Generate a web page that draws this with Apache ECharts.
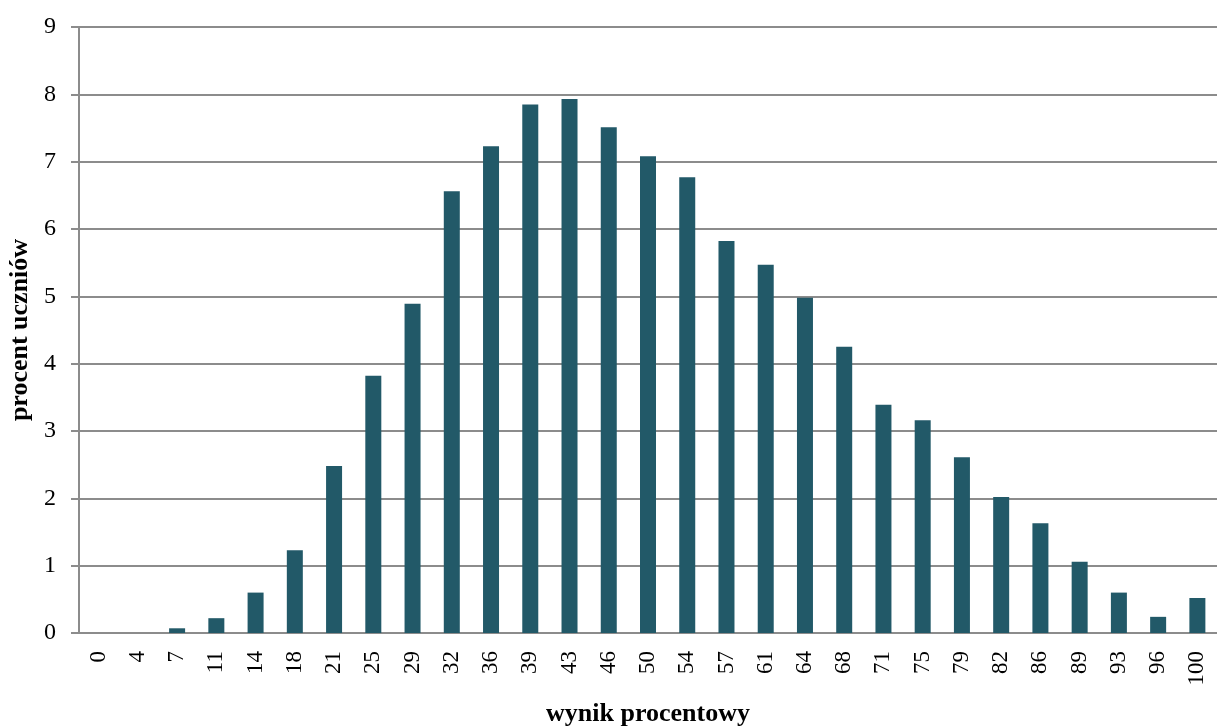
<!DOCTYPE html>
<html>
<head>
<meta charset="utf-8">
<script src="https://cdn.jsdelivr.net/npm/echarts@6/dist/echarts.min.js"></script>
<style>
html,body{margin:0;padding:0;background:#fff;}
#chart{width:1217px;height:726px;}
</style>
</head>
<body>
<div id="chart"></div>
<script>
const categories = ['0','4','7','11','14','18','21','25','29','32','36','39','43','46','50','54','57','61','64','68','71','75','79','82','86','89','93','96','100'];
const values = [0, 0, 0.07, 0.22, 0.60, 1.23, 2.48, 3.82, 4.89, 6.56, 7.23, 7.85, 7.93, 7.51, 7.08, 6.77, 5.82, 5.47, 4.98, 4.25, 3.39, 3.16, 2.61, 2.02, 1.63, 1.06, 0.60, 0.24, 0.52];
const yTicks = [0,1,2,3,4,5,6,7,8,9];
const xTitle = 'wynik procentowy';
const yTitle = 'procent uczniów';

const font = '"Liberation Serif", "Times New Roman", serif';
const chart = echarts.init(document.getElementById('chart'));
chart.setOption({
  animation: false,
  backgroundColor: '#ffffff',
  grid: {left: 79, right: 0, top: 27, bottom: 93, containLabel: false, outerBoundsMode: 'none'},
  xAxis: {
    type: 'category',
    data: categories,
    name: xTitle,
    nameLocation: 'middle',
    nameGap: 68,
    nameTextStyle: {fontFamily: font, fontWeight: 'bold', fontSize: 26, color: '#000'},
    axisLine: {show: true, lineStyle: {color: '#8c8c8c', width: 2}},
    axisTick: {show: false},
    axisLabel: {rotate: 90, interval: 0, margin: 18, fontFamily: font, fontSize: 23, color: '#000'}
  },
  yAxis: {
    type: 'value',
    min: yTicks[0],
    max: yTicks[yTicks.length - 1],
    interval: 1,
    name: yTitle,
    nameLocation: 'middle',
    nameGap: 46,
    nameTextStyle: {fontFamily: font, fontWeight: 'bold', fontSize: 26, color: '#000'},
    axisLine: {show: true, lineStyle: {color: '#8c8c8c', width: 2}},
    axisTick: {show: true, length: 8, lineStyle: {color: '#8c8c8c', width: 2}},
    axisLabel: {margin: 23, fontFamily: font, fontSize: 24, color: '#000'},
    splitLine: {show: true, lineStyle: {color: '#8c8c8c', width: 2}}
  },
  series: [{
    type: 'bar',
    data: values,
    barWidth: 16,
    itemStyle: {color: '#225968'}
  }]
});
</script>
</body>
</html>
